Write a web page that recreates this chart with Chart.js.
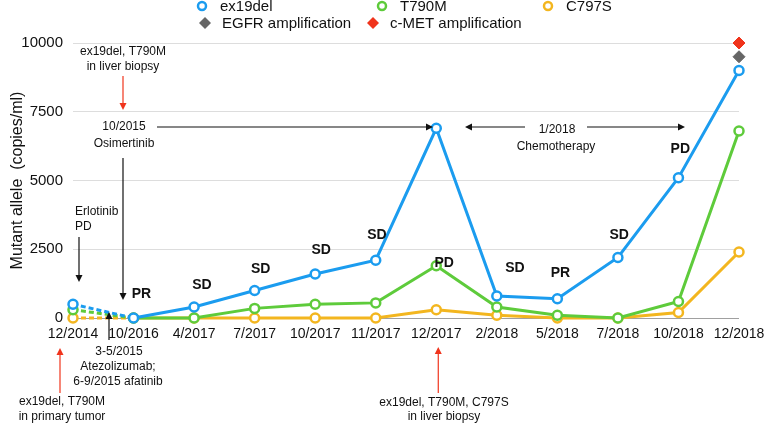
<!DOCTYPE html>
<html>
<head>
<meta charset="utf-8">
<script src="https://cdn.jsdelivr.net/npm/chart.js@4/dist/chart.umd.min.js"></script>
<style>
  html, body { margin: 0; padding: 0; background: #fff; }
</style>
</head>
<body>
<canvas id="chart" width="778" height="423"></canvas>
<script>
const labels = ['12/2014', '10/2016', '4/2017', '7/2017', '10/2017', '11/2017',
                '12/2017', '2/2018', '5/2018', '7/2018', '10/2018', '12/2018'];
const ex19del = [500, 0, 400, 1000, 1600, 2100, 6900, 800, 700, 2200, 5100, 9000];
const t790m   = [300, 0, 0, 350, 500, 550, 1900, 400, 100, 0, 600, 6800];
const c797s   = [0, 0, 0, 0, 0, 0, 300, 100, 0, 0, 200, 2400];
const egfrAmp = [null, null, null, null, null, null, null, null, null, null, null, 9500];
const cmetAmp = [null, null, null, null, null, null, null, null, null, null, null, 10000];
const yTicks  = [0, 2500, 5000, 7500, 10000];

const FONT = "'Liberation Sans', Arial, Helvetica, sans-serif";
const BLUE = '#1b9cef', GREEN = '#5ecb3b', YELLOW = '#f3b61f', GRAY = '#666666', RED = '#f0341c';

// response labels (x as category index, y as value)
const responses = [
  ['PR', 1.13, 870], ['SD', 2.13, 1200], ['SD', 3.1, 1780], ['SD', 4.1, 2470],
  ['SD', 5.02, 3020], ['PD', 6.13, 2000], ['SD', 7.3, 1820], ['PR', 8.05, 1640],
  ['SD', 9.02, 3020], ['PD', 10.03, 6150]
];

function lineSet(label, data, color) {
  return {
    label: label,
    data: data,
    borderColor: color,
    backgroundColor: '#fff',
    borderWidth: 3,
    pointRadius: 4.5,
    pointHoverRadius: 4.5,
    pointBorderWidth: 2.5,
    pointBackgroundColor: '#fff',
    pointBorderColor: color,
    clip: false,
    segment: {
      borderDash: ctx => ctx.p0DataIndex === 0 ? [5, 3] : undefined
    }
  };
}

function markerSet(label, data, color) {
  return {
    label: label,
    data: data,
    showLine: false,
    clip: false,
    pointStyle: 'rectRot',
    pointRadius: 6,
    pointHoverRadius: 6,
    pointBackgroundColor: color,
    pointBorderColor: color,
    borderColor: color,
    backgroundColor: color
  };
}

function arrow(ctx, x1, y1, x2, y2, color) {
  const ang = Math.atan2(y2 - y1, x2 - x1);
  const len = 7, w = 3.5;
  ctx.save();
  ctx.strokeStyle = color;
  ctx.fillStyle = color;
  ctx.lineWidth = 1.2;
  ctx.beginPath();
  ctx.moveTo(x1, y1);
  ctx.lineTo(x2 - Math.cos(ang) * len * 0.8, y2 - Math.sin(ang) * len * 0.8);
  ctx.stroke();
  ctx.beginPath();
  ctx.moveTo(x2, y2);
  ctx.lineTo(x2 - Math.cos(ang) * len - Math.sin(ang) * w, y2 - Math.sin(ang) * len + Math.cos(ang) * w);
  ctx.lineTo(x2 - Math.cos(ang) * len + Math.sin(ang) * w, y2 - Math.sin(ang) * len - Math.cos(ang) * w);
  ctx.closePath();
  ctx.fill();
  ctx.restore();
}

function text(ctx, str, x, y, align, font) {
  ctx.font = font || ('12px ' + FONT);
  ctx.textAlign = align || 'center';
  ctx.textBaseline = 'middle';
  ctx.fillStyle = '#111';
  ctx.fillText(str, x, y);
}

const notes = {
  id: 'notes',
  afterDraw(chart) {
    const ctx = chart.ctx;
    const xs = chart.scales.x, ys = chart.scales.y;

    // legend
    const legend = [
      ['ex19del', BLUE, 'circle', 202, 6],
      ['T790M', GREEN, 'circle', 382, 6],
      ['C797S', YELLOW, 'circle', 548, 6],
      ['EGFR amplification', GRAY, 'rectRot', 205, 23],
      ['c-MET amplification', RED, 'rectRot', 373, 23]
    ];
    legend.forEach(([name, color, style, x, y]) => {
      ctx.save();
      if (style === 'circle') {
        ctx.strokeStyle = color;
        ctx.lineWidth = 2.5;
        ctx.fillStyle = '#fff';
        ctx.beginPath();
        ctx.arc(x, y, 4, 0, Math.PI * 2);
        ctx.fill();
        ctx.stroke();
      } else {
        ctx.fillStyle = color;
        ctx.beginPath();
        ctx.moveTo(x, y - 6); ctx.lineTo(x + 6, y); ctx.lineTo(x, y + 6); ctx.lineTo(x - 6, y);
        ctx.closePath();
        ctx.fill();
      }
      ctx.restore();
      text(ctx, name, x + (style === 'circle' ? 18 : 17), y + 1, 'left', '15px ' + FONT);
    });

    // response labels
    responses.forEach(([lab, i, v]) => {
      text(ctx, lab, xs.getPixelForValue(i), ys.getPixelForValue(v), 'center', 'bold 14px ' + FONT);
    });

    // treatment / biopsy annotations
    text(ctx, 'ex19del, T790M', 123, 52);
    text(ctx, 'in liver biopsy', 123, 67);
    arrow(ctx, 123, 76, 123, 110, RED);

    text(ctx, '10/2015', 124, 127);
    text(ctx, 'Osimertinib', 124, 144);
    arrow(ctx, 157, 127, 433, 127, '#111');
    arrow(ctx, 123, 158, 123, 300, '#111');

    text(ctx, 'Erlotinib', 75, 212, 'left');
    text(ctx, 'PD', 75, 227, 'left');
    arrow(ctx, 79, 237, 79, 282, '#111');

    arrow(ctx, 109, 340, 109, 312, '#111');
    text(ctx, '3-5/2015', 119, 352);
    text(ctx, 'Atezolizumab;', 118, 367);
    text(ctx, '6-9/2015 afatinib', 118, 382);

    arrow(ctx, 60, 393, 60, 348, RED);
    text(ctx, 'ex19del, T790M', 62, 402);
    text(ctx, 'in primary tumor', 62, 417);

    text(ctx, '1/2018', 557, 130);
    text(ctx, 'Chemotherapy', 556, 147);
    arrow(ctx, 525, 127, 465, 127, '#111');
    arrow(ctx, 587, 127, 685, 127, '#111');

    const bx = xs.getPixelForValue(6);
    arrow(ctx, bx + 2, 393, bx + 2, 347, RED);
    text(ctx, 'ex19del, T790M, C797S', 444, 403);
    text(ctx, 'in liver biopsy', 444, 417);
  }
};

new Chart(document.getElementById('chart').getContext('2d'), {
  type: 'line',
  data: {
    labels: labels,
    datasets: [
      lineSet('ex19del', ex19del, BLUE),
      lineSet('T790M', t790m, GREEN),
      lineSet('C797S', c797s, YELLOW),
      markerSet('EGFR amplification', egfrAmp, GRAY),
      markerSet('c-MET amplification', cmetAmp, RED)
    ]
  },
  options: {
    responsive: false,
    animation: false,
    devicePixelRatio: 1,
    layout: { padding: { top: 43, right: 39, left: 0, bottom: 0 } },
    plugins: {
      legend: { display: false },
      tooltip: { enabled: false }
    },
    scales: {
      x: {
        offset: false,
        grid: { display: false, drawTicks: false },
        border: { display: false },
        ticks: { color: '#111', font: { family: FONT, size: 14 }, padding: 8, maxRotation: 0, autoSkip: false },
        afterFit: s => { s.height = 105; }
      },
      y: {
        min: 0,
        max: 10000,
        afterBuildTicks: s => { s.ticks = yTicks.map(v => ({ value: v })); },
        grid: {
          drawTicks: false,
          color: c => c.tick && c.tick.value === 0 ? '#a0a0a0' : '#dddddd',
          lineWidth: 1
        },
        border: { display: false },
        ticks: {
          color: '#111',
          font: { family: FONT, size: 15 },
          padding: 10,
          callback: v => String(v)
        },
        title: {
          display: true,
          text: 'Mutant allele  (copies/ml)',
          color: '#111',
          font: { family: FONT, size: 16 },
          padding: { top: 8, bottom: 0 }
        },
        afterFit: s => { s.width = 73; }
      }
    }
  },
  plugins: [notes]
});
</script>
</body>
</html>
